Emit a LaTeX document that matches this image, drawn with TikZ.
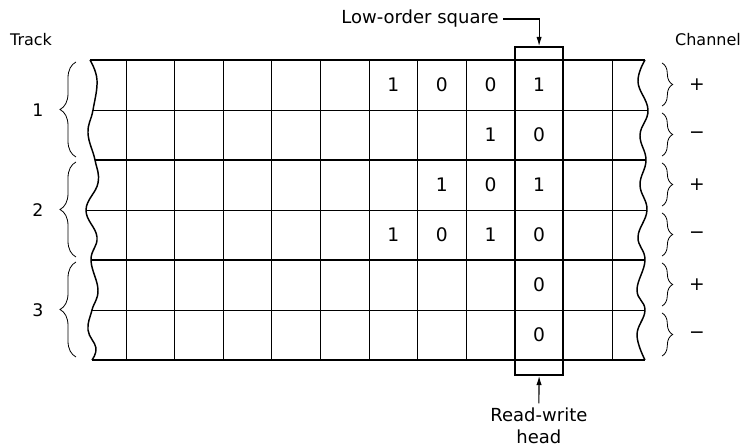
\documentclass[tikz,border=0pt]{standalone}
\usepackage{fontspec}
\setsansfont{DejaVu Sans}
\usetikzlibrary{arrows.meta,decorations.pathreplacing}

\begin{document}
\begin{tikzpicture}[x=0.75pt, y=-0.75pt, font=\sffamily,
  cell/.style={line width=0.7pt},
  trackline/.style={line width=1.4pt},
  wave/.style={line width=1.1pt},
  head/.style={draw, line width=1.4pt, minimum width=36.45pt, minimum height=246pt, inner sep=0pt},
  digit/.style={font=\sffamily\fontsize{14}{16}\selectfont},
  num/.style={font=\sffamily\fontsize{13}{15}\selectfont},
  lbl/.style={font=\sffamily\fontsize{12}{16.5}\selectfont, align=center},
  biglbl/.style={font=\sffamily\fontsize{13.5}{16.5}\selectfont, align=center},
  trkbrace/.style={decorate, decoration={brace, amplitude=12pt}, line width=0.6pt},
  chbrace/.style={decorate, decoration={brace, amplitude=8pt}, line width=0.6pt},
  arr/.style={-{Latex[length=2.4mm, width=1.4mm]}, line width=0.8pt}]
\useasboundingbox (0,0) rectangle (744,448);

% tape cells
\foreach \k in {0,...,10}
  \draw[cell] (126+48.6*\k,60) -- (126+48.6*\k,360);
\foreach \y/\xl/\xr/\s in {60/90/645/trackline, 110/93/648/cell, 160/95/646/trackline,
    210/86/647/cell, 260/91/645/trackline, 310/92/645/cell, 360/92/645/trackline}
  \draw[\s] (\xl,\y) -- (\xr,\y);

% torn edges
\draw[wave] plot[smooth, tension=0.7] coordinates {(90,60) (97,80) (93,110) (88,133) (95,160)
  (98,183) (86,210) (97,237) (91,260) (98,290) (92,310) (88,330) (96,348) (92,360)};
\draw[wave] plot[smooth, tension=0.7] coordinates {(645,60) (638,82) (648,110) (640,135) (646,160)
  (640,185) (647,210) (638,237) (645,260) (637,290) (645,310) (637,335) (645,360)};

% bits
\foreach \r/\c/\v in {1/5/1, 1/6/0, 1/7/0, 1/8/1, 2/7/1, 2/8/0, 3/6/1, 3/7/0, 3/8/1,
    4/5/1, 4/6/0, 4/7/1, 4/8/0, 5/8/0, 6/8/0}
  \node[digit] (d\r\c) at (150.3+48.6*\c, 35+50*\r) {\v};

% read-write head
\node[head] (head) at (539.1,211) {};

% tracks
\node[lbl] (track) at (31,40) {Track};
\foreach \t in {1,2,3} {
  \node[num] (t\t) at (38,10+100*\t) {\t};
  \draw[trkbrace] (76,57+100*\t) -- (76,-38+100*\t);
}

% channels
\node[lbl] (channel) at (708,40) {Channel};
\foreach \r/\s in {1/+, 2/−, 3/+, 4/−, 5/+, 6/−} {
  \node[digit] (c\r) at (697,35+50*\r) {\s};
  \draw[chbrace] (662,13+50*\r) -- (662,56+50*\r);
}

% labels
\node[biglbl] (low) at (420,19) {Low-order square};
\node[biglbl] (rw) at (538.9,426) {Read-write\\head};
\draw[arr] (low.east) -| (head.north);
\draw[arr] (rw.north) -- (head.south);
\end{tikzpicture}
\end{document}
